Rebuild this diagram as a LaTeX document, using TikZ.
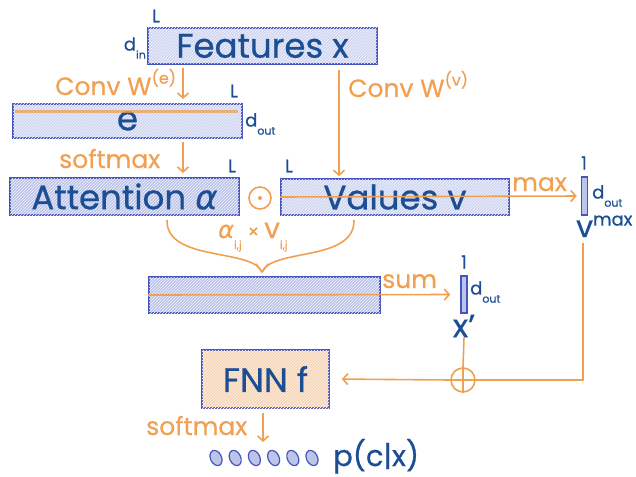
\documentclass[tikz,border=0pt]{standalone}
\usepackage{fontspec}
\setmainfont{Poppins}
\newfontfamily\heavy{Poppins}[FakeBold=0.7]
\newfontfamily\semi{Poppins}[FakeBold=0.4]
\newfontfamily\grk{DejaVu Sans}[FakeBold=0.4]
\usetikzlibrary{arrows.meta,patterns,shapes.geometric,calc}
\definecolor{txtblue}{RGB}{28,78,148}
\definecolor{boxblue}{RGB}{70,85,190}
\definecolor{orng}{RGB}{240,160,80}
\definecolor{fillblue}{RGB}{208,214,242}
\definecolor{fillblue2}{RGB}{188,196,234}
\definecolor{fillorng}{RGB}{249,212,176}
\newcommand{\fs}[1]{\fontsize{#1}{#1}\selectfont}
\newcommand{\subtxt}[1]{\raisebox{-0.45em}{\fs{11}#1}}
\newcommand{\suptxt}[1]{\raisebox{0.45em}{\fs{16}#1}}
\newcommand{\galpha}{{\grk\itshape α}}
\begin{document}
\begin{tikzpicture}[x=1pt,y=-1pt,
  box/.style={draw=boxblue, line width=1.6pt, fill=fillblue, inner sep=0pt, text=txtblue, font=\heavy\fs{34},
    postaction={pattern=north east lines, pattern color=white!70!fillblue}},
  darkbox/.style={box, fill=fillblue2},
  bar/.style={draw=boxblue, line width=1.4pt, fill=fillblue2, inner sep=0pt, minimum width=6pt},
  dimlbl/.style={text=txtblue, font=\semi\fs{18}, inner sep=0pt},
  olbl/.style={text=orng, font=\semi\fs{25}, inner sep=0pt},
  oline/.style={draw=orng, line width=1.6pt},
  arr/.style={oline, -{Straight Barb[length=5pt,width=11pt,line width=1.6pt]}},
]
\useasboundingbox (0,0) rectangle (636,476);

% boxes
\node[box, minimum width=229pt, minimum height=36pt] (feat) at (262.5,46) {Features x};
\node[box, minimum width=229pt, minimum height=34pt] (e) at (127.5,121) {e};
\node[darkbox, minimum width=229pt, minimum height=37pt] (att) at (124.5,196.5) {Attention \galpha};
\node[box, minimum width=228pt, minimum height=36pt] (vals) at (395,197) {Values v};
\node[darkbox, minimum width=231pt, minimum height=36pt] (sumb) at (264.5,295) {};
\node[box, fill=fillorng, minimum width=127pt, minimum height=58pt,
  postaction={pattern=north east lines, pattern color=white!60!fillorng}] (fnn) at (265.5,379) {FNN f};
\node[bar, minimum height=38pt] (maxbar) at (584.5,196) {};
\node[bar, minimum height=37pt] (xbar) at (464,294.5) {};

% dimension labels
\node[dimlbl] (Lf) at (156,16) {L};
\node[dimlbl, anchor=east] (din) at (146,48) {d\subtxt{in}};
\node[dimlbl] (Le) at (234,91) {L};
\node[dimlbl, anchor=west] (doute) at (245,124) {d\subtxt{out}};
\node[dimlbl] (La) at (232,166) {L};
\node[dimlbl] (Lv) at (289,166) {L};
\node[dimlbl] (onem) at (584,163) {1};
\node[dimlbl, anchor=west] (doutm) at (592,196) {d\subtxt{out}};
\node[dimlbl] (onex) at (464,262) {1};
\node[dimlbl, anchor=west] (doutx) at (470,292) {d\subtxt{out}};
\node[text=txtblue, font=\heavy\fs{30}, inner sep=0pt, anchor=base west] (vmax) at (576,237) {v\raisebox{0.38em}{\fs{18}max}};
\node[text=txtblue, font=\heavy\fs{32}, inner sep=0pt] (xp) at (464,326) {x’};

% orange labels
\node[olbl, anchor=base west] (convE) at (55,95) {Conv W\suptxt{(e)}};
\node[olbl, anchor=base west] (convV) at (348,97) {Conv W\suptxt{(v)}};
\node[olbl, anchor=base west] (sm1) at (59,168) {softmax};
\node[olbl, anchor=base west] (maxl) at (512,191) {max};
\node[olbl, anchor=base west] (suml) at (382,288) {sum};
\node[olbl, anchor=base west] (sm2) at (146,435) {softmax};
\node[text=orng, font=\semi\fs{24}, inner sep=0pt, anchor=base west] (prod) at (218,238)
  {\galpha\subtxt{i,j}\hspace{6pt}{\fs{18}×}\hspace{5pt}{\fs{28}v}\subtxt{i,j}};

% odot
\node[circle, draw=orng, line width=1.6pt, minimum size=22pt, inner sep=0pt] (odot) at (260,198) {};
\fill[orng] (odot.center) circle (2pt);

% lines inside boxes
\draw[orng, line width=3pt, opacity=.75] ($(e.north west)+(3,8)$) -- ($(e.north east)+(-5,8)$);
\draw[arr, shorten >=4pt] (vals.west) -- (maxbar.west);
\draw[arr, shorten >=10pt] (sumb.west) -- (xbar.west);

% vertical arrows
\coordinate (a1s) at (183,68);
\coordinate (a1e) at (183,99);
\draw[arr] (a1s) -- (a1e);
\coordinate (a2s) at (183,142);
\coordinate (a2e) at (183,173);
\draw[arr] (a2s) -- (a2e);
\coordinate (cvs) at (339,70);
\draw[arr, shorten >=2pt] (cvs) -- (vals.north -| cvs);
\coordinate (a3s) at (263,413);
\coordinate (a3e) at (263,442);
\draw[arr] (a3s) -- (a3e);

% brace
\coordinate (bl) at (167,220);
\coordinate (br) at (354,220);
\coordinate (bt) at (262,272);
\draw[oline] (bl) .. controls (166,262) and (252,248) .. (bt);
\draw[oline] (br) .. controls (355,262) and (272,248) .. (bt);
\draw[oline, line cap=round, line join=round] ($(bt)+(-6,-8)$) -- (bt) -- ($(bt)+(6,-8)$);

% residual path
\node[circle, draw=orng, line width=1.6pt, minimum size=24pt, inner sep=0pt] (oplus) at (463,380) {};
\draw[oline] (oplus.north) -- (oplus.south) (oplus.west) -- (oplus.east);
\coordinate (r1) at (583,243);
\coordinate (r2) at (583,380);
\draw[oline] (r1) -- (r2) -- (oplus.east);
\draw[oline] (xp.south) -- (oplus.north);
\draw[arr, shorten >=12pt] (oplus.west) -- (fnn.east);

% output
\foreach \i in {0,...,5}{
  \node[ellipse, draw=boxblue, fill=fillblue2, line width=1.2pt, minimum width=11pt, minimum height=16pt,
    inner sep=0pt, rotate=25] (o\i) at (216+19.2*\i,458) {};
}
\node[text=txtblue, font=\heavy\fs{29}, inner sep=0pt, anchor=base west] (pcx) at (333,466) {p(c|x)};
\end{tikzpicture}
\end{document}
